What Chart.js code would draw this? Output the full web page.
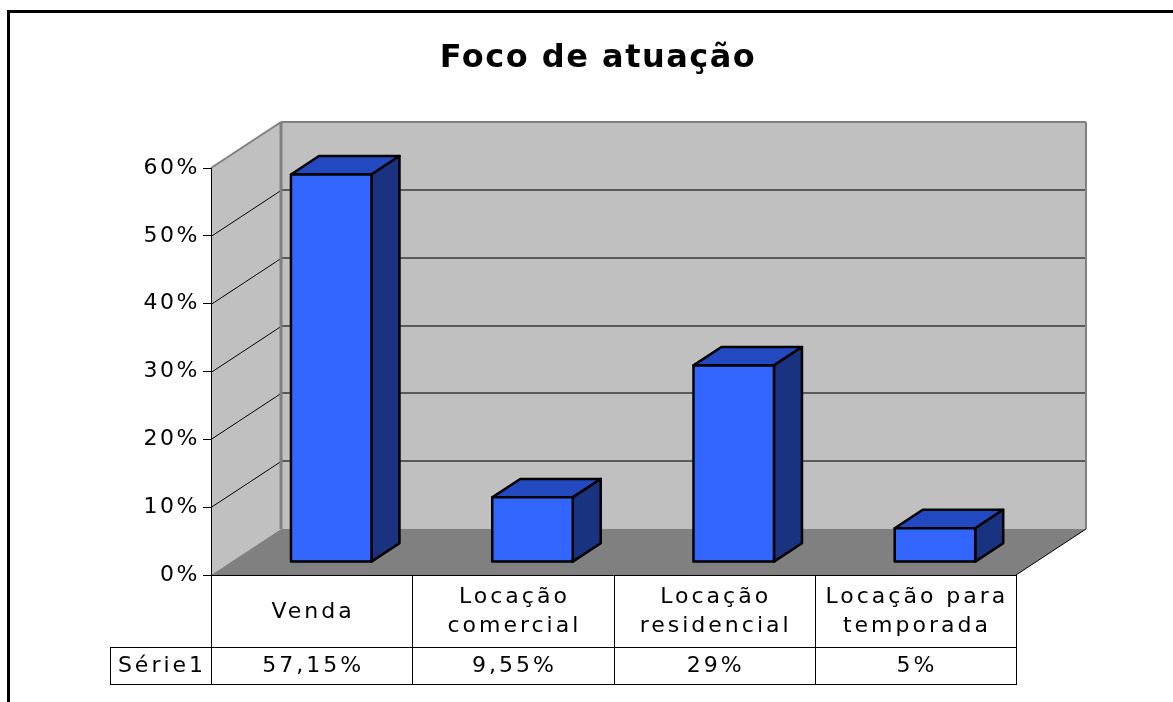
<!DOCTYPE html>
<html>
<head>
<meta charset="utf-8">
<script src="https://cdn.jsdelivr.net/npm/chart.js@4.4.0/dist/chart.umd.min.js"></script>
<style>
html, body { margin: 0; padding: 0; background: #fff; }
</style>
</head>
<body>
<canvas id="foco" width="1173" height="702"></canvas>
<script>
// data
var chartTitle = 'Foco de atuação';
var categories = [['Venda'], ['Locação', 'comercial'], ['Locação', 'residencial'], ['Locação para', 'temporada']];
var seriesName = 'Série1';
var values = [57.15, 9.55, 29, 5];
var yTicks = [0, 10, 20, 30, 40, 50, 60];

var FONT = 'DejaVu Sans';
var DX = 70, DY = -46;      // depth of the 3D box
var FRONT = 0.28, BACK = 0.68;

function fmt(v) {
    return String(v).replace('.', ',') + '%';
}

function poly(ctx, pts, fill, stroke, lw) {
    ctx.beginPath();
    ctx.moveTo(pts[0][0], pts[0][1]);
    for (var i = 1; i < pts.length; i++) ctx.lineTo(pts[i][0], pts[i][1]);
    ctx.closePath();
    if (fill) { ctx.fillStyle = fill; ctx.fill(); }
    if (stroke) { ctx.strokeStyle = stroke; ctx.lineWidth = lw; ctx.stroke(); }
}

function line(ctx, x1, y1, x2, y2, color, lw) {
    ctx.beginPath();
    ctx.moveTo(x1, y1);
    ctx.lineTo(x2, y2);
    ctx.strokeStyle = color;
    ctx.lineWidth = lw;
    ctx.stroke();
}

var box3d = {
    id: 'box3d',
    beforeDraw: function (chart) {
        var ctx = chart.ctx, a = chart.chartArea, ys = chart.scales.y;
        var top = ys.getPixelForValue(yTicks[yTicks.length - 1]), bot = ys.getPixelForValue(0);
        ctx.save();
        // side wall, back wall, floor
        poly(ctx, [[a.left, top], [a.left + DX, top + DY], [a.left + DX, bot + DY], [a.left, bot]], '#C0C0C0');
        ctx.fillStyle = '#C0C0C0';
        ctx.fillRect(a.left + DX, top + DY, a.right - a.left, bot - top);
        poly(ctx, [[a.left, bot], [a.left + DX, bot + DY], [a.right + DX, bot + DY], [a.right, bot]], '#808080');
        // gridlines
        yTicks.forEach(function (v) {
            if (v === 0 || v === yTicks[yTicks.length - 1]) return;
            var py = Math.round(ys.getPixelForValue(v));
            line(ctx, a.left + DX, py + DY, a.right + DX, py + DY, '#5a5a5a', 2);
            line(ctx, a.left, py + 0.5, a.left + DX, py + DY + 0.5, '#000', 1);
        });
        // wall edges
        line(ctx, a.left + DX, top + DY, a.left + DX, bot + DY, '#808080', 3);
        line(ctx, a.left + DX, top + DY, a.right + DX, top + DY, '#808080', 2);
        line(ctx, a.right + DX, top + DY, a.right + DX, bot + DY, '#808080', 2);
        line(ctx, a.left, top, a.left + DX, top + DY, '#808080', 2);
        line(ctx, a.right, bot, a.right + DX, bot + DY, '#000', 1);
        ctx.restore();
        ctx.letterSpacing = '2.5px';
    },
    afterDatasetsDraw: function (chart) {
        var ctx = chart.ctx;
        var meta = chart.getDatasetMeta(0);
        var ox = DX * (BACK - FRONT), oy = DY * (BACK - FRONT);
        ctx.save();
        ctx.lineJoin = 'round';
        meta.data.forEach(function (el) {
            var x0 = el.x - el.width / 2 + DX * FRONT, x1 = x0 + el.width;
            var yt = el.y + DY * FRONT, yb = el.base + DY * FRONT;
            poly(ctx, [[x0, yt], [x0 + ox, yt + oy], [x1 + ox, yt + oy], [x1, yt]], '#2349C0', '#000', 2.5);
            poly(ctx, [[x1, yt], [x1 + ox, yt + oy], [x1 + ox, yb + oy], [x1, yb]], '#1A3380', '#000', 2.5);
            poly(ctx, [[x0, yt], [x1, yt], [x1, yb], [x0, yb]], '#3366FF', '#000', 2.5);
        });
        ctx.restore();
    },
    afterDraw: function (chart) {
        var ctx = chart.ctx, a = chart.chartArea, xs = chart.scales.x, ys = chart.scales.y;
        var r0 = Math.round(ys.getPixelForValue(0)), r1 = r0 + 72, r2 = r0 + 109;
        var labelLeft = 110;
        ctx.save();
        // data table grid
        line(ctx, a.left, r0 + 0.5, a.right, r0 + 0.5, '#000', 1);
        line(ctx, labelLeft, r1 + 0.5, a.right, r1 + 0.5, '#000', 1);
        line(ctx, labelLeft, r2 + 0.5, a.right, r2 + 0.5, '#000', 1);
        line(ctx, labelLeft + 0.5, r1, labelLeft + 0.5, r2 + 1, '#000', 1);
        var step = (a.right - a.left) / categories.length;
        for (var i = 0; i <= categories.length; i++) {
            var vx = Math.round(a.left + step * i) + 0.5;
            line(ctx, vx, r0, vx, r2 + 1, '#000', 1);
        }
        // table text
        ctx.fillStyle = '#000';
        ctx.font = '22px "' + FONT + '"';
        ctx.letterSpacing = '3px';
        ctx.textAlign = 'center';
        ctx.textBaseline = 'middle';
        categories.forEach(function (lines, i) {
            var cx = xs.getPixelForValue(i) + 1.5;
            var mid = (r0 + r1) / 2 + 1;
            lines.forEach(function (t, k) {
                ctx.fillText(t, cx, mid + (k - (lines.length - 1) / 2) * 29);
            });
            ctx.fillText(fmt(values[i]), cx, (r1 + r2) / 2 + 1);
        });
        ctx.fillText(seriesName, (labelLeft + a.left) / 2 + 1.5, (r1 + r2) / 2 + 1);
        // title
        ctx.font = 'bold 32px "' + FONT + '"';
        ctx.letterSpacing = '1.5px';
        ctx.textBaseline = 'alphabetic';
        ctx.fillText(chartTitle, 598, 67);
        // outer frame
        ctx.fillRect(7, 10, chart.width - 7, 3);
        ctx.fillRect(7, 10, 3, chart.height - 10);
        ctx.restore();
    }
};

new Chart(document.getElementById('foco'), {
    type: 'bar',
    data: {
        labels: categories,
        datasets: [{
            label: seriesName,
            data: values,
            backgroundColor: 'rgba(0,0,0,0)',
            borderWidth: 0,
            categoryPercentage: 1,
            barPercentage: 0.4
        }]
    },
    options: {
        responsive: false,
        animation: false,
        events: [],
        layout: { padding: { left: 0, right: 157, top: 168, bottom: 127 } },
        plugins: {
            legend: { display: false },
            tooltip: { enabled: false },
            title: { display: false }
        },
        scales: {
            x: { display: false, offset: true },
            y: {
                min: 0,
                max: 60,
                afterFit: function (s) { s.width = 211; },
                afterBuildTicks: function (s) { s.ticks = yTicks.map(function (v) { return { value: v }; }); },
                ticks: {
                    color: '#000',
                    padding: 3,
                    font: { family: FONT, size: 22 },
                    callback: function (v) { return v + '%'; }
                },
                grid: { drawOnChartArea: false, drawTicks: true, tickLength: 8, color: '#000' },
                border: { display: true, color: '#000', width: 1 }
            }
        }
    },
    plugins: [box3d]
});
</script>
</body>
</html>
